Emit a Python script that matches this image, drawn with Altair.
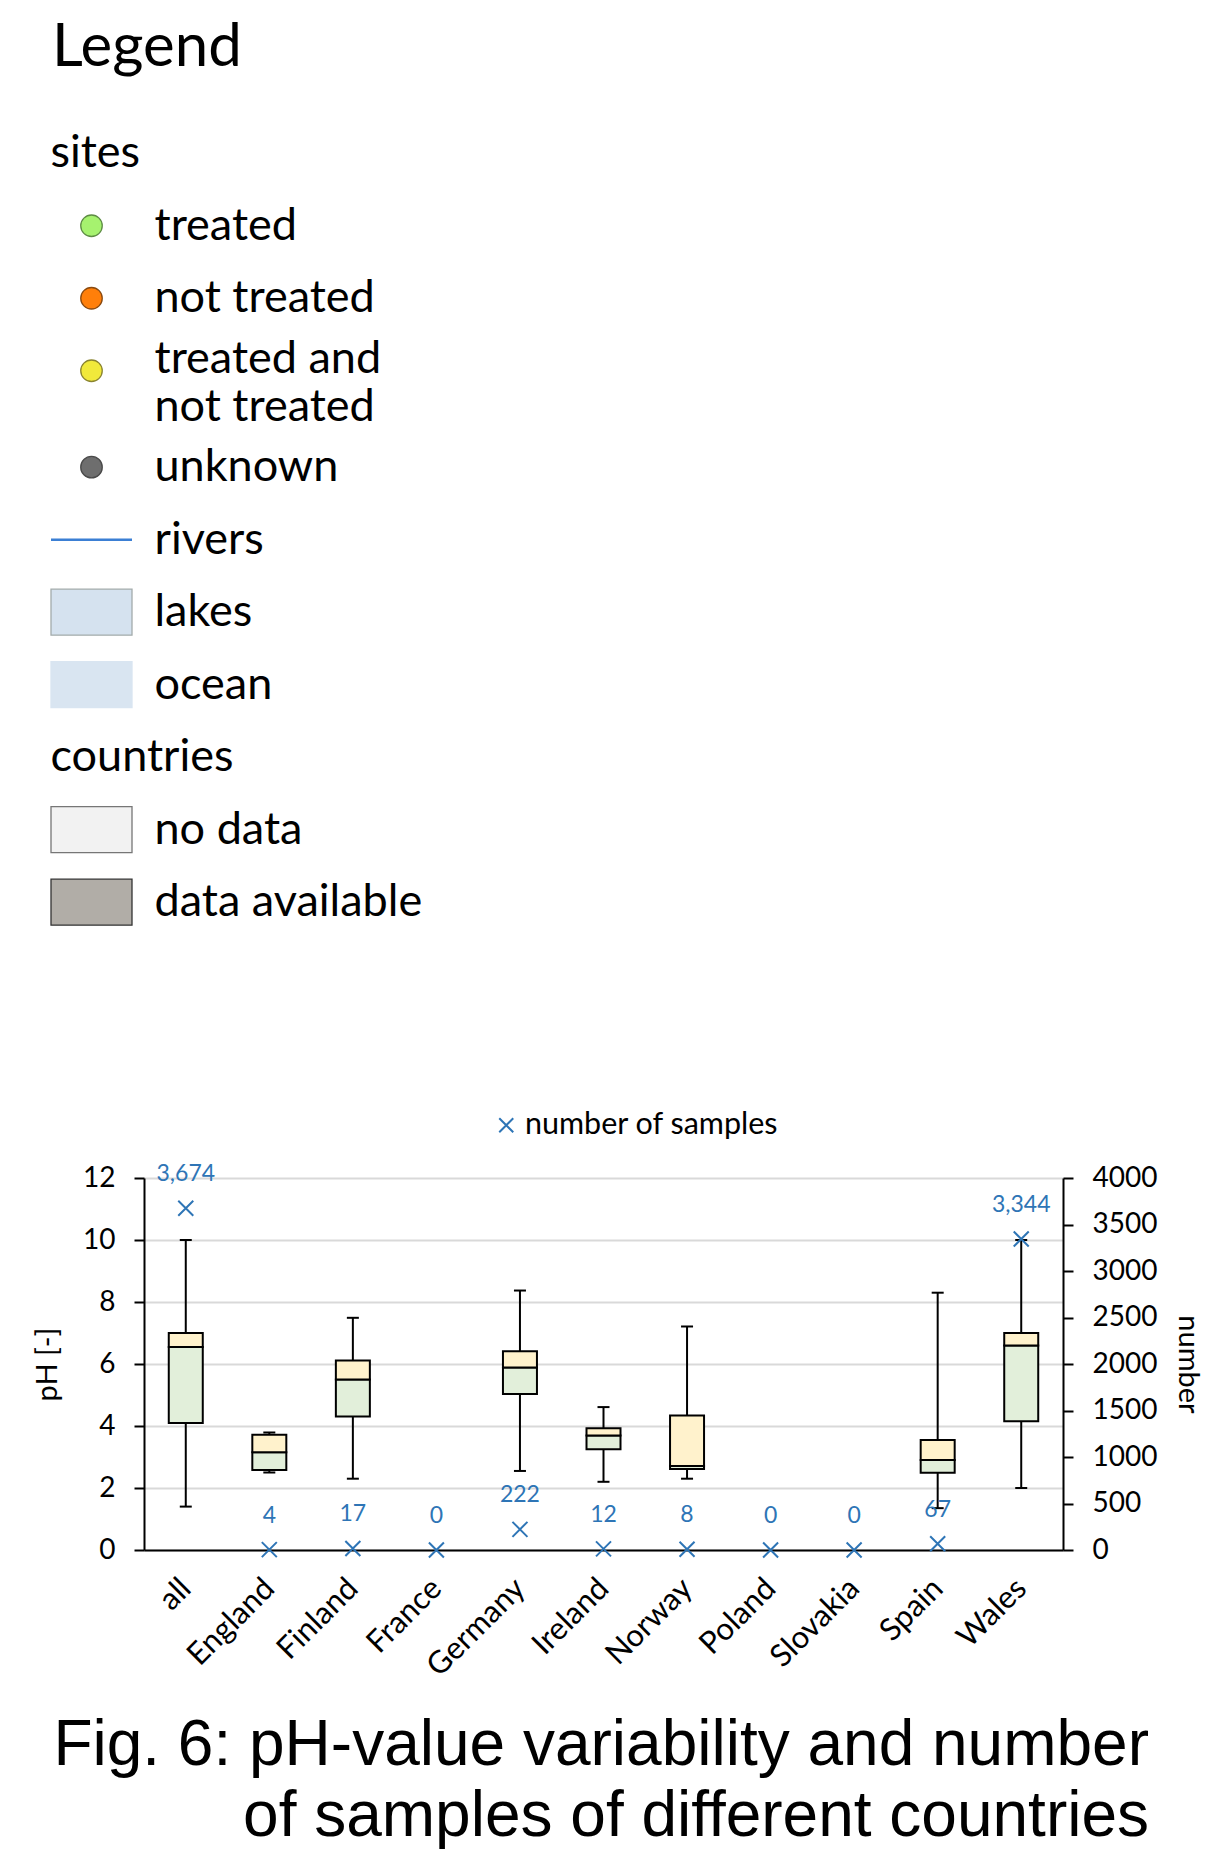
import altair as alt
import pandas as pd

# ---------------- data ----------------
countries = ["all", "England", "Finland", "France", "Germany", "Ireland",
             "Norway", "Poland", "Slovakia", "Spain", "Wales"]
ph_min    = [1.40, 2.50, 2.30, None, 2.55, 2.20, 2.30, None, None, 1.35, 2.00]
ph_q1     = [4.10, 2.58, 4.31, None, 5.03, 3.25, 2.61, None, None, 2.49, 4.15]
ph_median = [6.55, 3.15, 5.50, None, 5.89, 3.69, 2.71, None, None, 2.90, 6.60]
ph_q3     = [7.00, 3.72, 6.11, None, 6.41, 3.93, 4.34, None, None, 3.55, 7.00]
ph_max    = [10.0, 3.79, 7.49, None, 8.37, 4.61, 7.21, None, None, 8.30, 10.0]
n_samples = [3674, 4, 17, 0, 222, 12, 8, 0, 0, 67, 3344]
count_series = "number of samples"

ph_ticks = [0, 2, 4, 6, 8, 10, 12]
n_ticks = [0, 500, 1000, 1500, 2000, 2500, 3000, 3500, 4000]

legend_heading = "Legend"
site_heading = "sites"
site_items = ["treated", "not treated", "treated and\nnot treated", "unknown",
              "rivers", "lakes", "ocean"]
site_kinds = ["circle", "circle", "circle", "circle", "line", "box", "box"]
country_heading = "countries"
country_items = ["no data", "data available"]
country_kinds = ["box", "box"]

caption = ["Fig. 6: pH-value variability and number",
           "of samples of different countries"]

# ---------------- styles ----------------
BLUE = "#2e75b6"
GREEN = "#e2efda"
YELLOW = "#fff2cc"
XPATH = "M-1,-1L1,1M-1,1L1,-1"
CIRCLE = "M-10.75,0A10.75,10.75,0,1,0,10.75,0A10.75,10.75,0,1,0,-10.75,0Z"
LINE = "M-40.5,0H40.5"
RECT = "M-40.5,-23H40.5V23H-40.5Z"
LINE_FRAC = 0.33  # extra row space per additional text line
entries = site_items + country_items
entry_fills = ["#a6f26f", "#ff7f0a", "#f1e93b", "#6e6e6e", "transparent",
               "#d5e2ef", "#d9e5f1", "#f2f2f2", "#b1ada7"]
entry_strokes = ["#5e8c45", "#8a4a10", "#8a8430", "#4a4a4a", "#3b7fd4",
                 "#a3abab", "#d9e5f1", "#767676", "#333333"]

# ---------------- legend panel ----------------
rows = [site_heading] + site_items + [country_heading] + country_items
kinds = ["heading"] + site_kinds + ["heading"] + country_kinds
legend_df = pd.DataFrame({"item": rows, "kind": kinds})
lb = alt.Chart(legend_df).transform_calculate(
    lines="split(datum.item, '\\n')"
).transform_calculate(
    extra="length(datum.lines) - 1"
).transform_window(
    idx="row_number()", cum="sum(extra)"
).transform_calculate(
    slot=f"datum.idx - 1 + {LINE_FRAC} * (datum.cum - datum.extra)"
).transform_calculate(
    tslot=f"datum.slot + {LINE_FRAC} * datum.extra / 2"
)
yscale = alt.Scale(domain=[-0.5, 10.893], reverse=True, nice=False, zero=False)
ysym = alt.Y("slot:Q", scale=yscale, axis=None)
ytxt = alt.Y("tslot:Q", scale=yscale, axis=None)
shape_enc = alt.Shape("kind:N", scale=alt.Scale(domain=["circle", "line", "box"],
                                                range=[CIRCLE, LINE, RECT]), legend=None)
fill_enc = alt.Fill("item:N", scale=alt.Scale(domain=entries, range=entry_fills), legend=None)
stroke_enc = alt.Stroke("item:N", scale=alt.Scale(domain=entries, range=entry_strokes), legend=None)

sym = lb.transform_filter("datum.kind == 'circle' || datum.kind == 'box'").mark_point(
    filled=True, size=4, opacity=1, strokeWidth=1.3
).encode(x=alt.value(-52.5), y=ysym, shape=shape_enc, fill=fill_enc, stroke=stroke_enc)

line_sym = lb.transform_filter("datum.kind == 'line'").mark_point(
    filled=False, size=4, opacity=1, strokeWidth=2.5
).encode(x=alt.value(-52.5), y=ysym, shape=shape_enc, stroke=stroke_enc)

head_txt = lb.transform_filter("datum.kind == 'heading'").mark_text(
    align="left", baseline="middle", fontSize=45, color="black"
).encode(x=alt.value(-93.5), y=ytxt, text="item:N")

entry_txt1 = lb.transform_filter("datum.kind != 'heading' && datum.extra == 0").mark_text(
    align="left", baseline="middle", fontSize=45, color="black"
).encode(x=alt.value(10.5), y=ytxt, text="lines:N")
entry_txt2 = lb.transform_filter("datum.kind != 'heading' && datum.extra > 0").mark_text(
    align="left", baseline="middle", fontSize=45, lineHeight=48, dy=-24, color="black"
).encode(x=alt.value(10.5), y=ytxt, text="lines:N")

panel = alt.layer(line_sym, sym, head_txt, entry_txt1, entry_txt2).properties(
    width=919, height=826,
    title=alt.TitleParams(legend_heading, anchor="start", frame="group", dx=-92,
                          fontSize=60, fontWeight="normal", color="black",
                          offset=-9, baseline="alphabetic")
)

# ---------------- box plot ----------------
box_df = pd.DataFrame({
    "country": countries, "ph_min": ph_min, "ph_q1": ph_q1, "ph_median": ph_median,
    "ph_q3": ph_q3, "ph_max": ph_max, "n": n_samples,
    "series": [count_series] * len(countries),
})
cb = alt.Chart(box_df)

xaxis = alt.Axis(title=None, labelAngle=-45, labelFontSize=31, ticks=False, tickSize=0,
                 labelPadding=23, labelOffset=-10, domainColor="black", domainWidth=2,
                 labelColor="black", grid=False)
xenc = alt.X("country:N", scale=alt.Scale(domain=countries, paddingInner=0, paddingOuter=0),
             axis=xaxis)

ph_scale = alt.Scale(domain=[0, 12], nice=False)
ph_axis = alt.Axis(values=ph_ticks, title="pH [-]", grid=True, gridColor="#d9d9d9",
                   gridWidth=2, domainColor="black", domainWidth=2, tickColor="black",
                   tickWidth=2, tickSize=10, labelPadding=19, labelFontSize=28,
                   titleFontSize=29, titlePadding=20, labelColor="black",
                   titleColor="black", titleFontWeight="normal")


def ph(field):
    return alt.Y(field, scale=ph_scale, axis=ph_axis)


whisker = cb.mark_rule(color="black", strokeWidth=2).encode(
    x=xenc, y=ph("ph_min:Q"), y2="ph_max:Q")
cap_lo = cb.mark_tick(color="black", size=12, thickness=2, opacity=1).encode(
    x=xenc, y=ph("ph_min:Q"))
cap_hi = cb.mark_tick(color="black", size=12, thickness=2, opacity=1).encode(
    x=xenc, y=ph("ph_max:Q"))
box_lo = cb.mark_bar(size=34, fill=GREEN, stroke="black", strokeWidth=2, opacity=1).encode(
    x=xenc, y=ph("ph_q1:Q"), y2="ph_median:Q")
box_hi = cb.mark_bar(size=34, fill=YELLOW, stroke="black", strokeWidth=2, opacity=1).encode(
    x=xenc, y=ph("ph_median:Q"), y2="ph_q3:Q")

n_scale = alt.Scale(domain=[0, 4000], nice=False)
n_axis = alt.Axis(orient="right", values=n_ticks, format="d", title="number", grid=False,
                  domainColor="black", domainWidth=2, tickColor="black", tickWidth=2,
                  tickSize=10, labelPadding=19, labelFontSize=28, titleFontSize=29,
                  titlePadding=16, labelColor="black", titleColor="black",
                  titleFontWeight="normal")

count_marks = cb.mark_point(size=225, filled=False, strokeWidth=2, color=BLUE, opacity=1).encode(
    x=xenc,
    y=alt.Y("n:Q", scale=n_scale, axis=n_axis),
    shape=alt.Shape("series:N", scale=alt.Scale(domain=[count_series], range=[XPATH]),
                    legend=alt.Legend(orient="none", legendX=347, legendY=-68, title=None,
                                      labelFontSize=30.5, labelColor="black", labelOffset=3.5,
                                      labelLimit=500, symbolSize=196, symbolStrokeWidth=2,
                                      symbolStrokeColor=BLUE, symbolFillColor="transparent",
                                      padding=0)),
)
count_text = cb.mark_text(dy=-34, color=BLUE, fontSize=23).encode(
    x=xenc, y=alt.Y("n:Q", scale=n_scale, axis=n_axis), text=alt.Text("n:Q", format=","))

boxchart = alt.layer(
    alt.layer(whisker, cap_lo, cap_hi, box_lo, box_hi),
    alt.layer(count_marks, count_text),
).resolve_scale(y="independent").properties(
    width=919, height=372,
    title=alt.TitleParams(caption, orient="bottom", anchor="end", align="right",
                          frame="group", dx=86, fontSize=64, lineHeight=71,
                          font="Liberation Sans", fontWeight="normal", color="black",
                          offset=32, baseline="top"),
)

chart = alt.vconcat(panel, boxchart, spacing=167).resolve_scale(
    shape="independent", fill="independent", stroke="independent"
).resolve_legend(
    shape="independent", fill="independent", stroke="independent"
).properties(
    padding={"left": 25, "top": 10, "right": 0, "bottom": 0}
).configure(font="Lato").configure_view(stroke=None)

chart.save("out.html", embed_options={"renderer": "svg", "actions": False})
